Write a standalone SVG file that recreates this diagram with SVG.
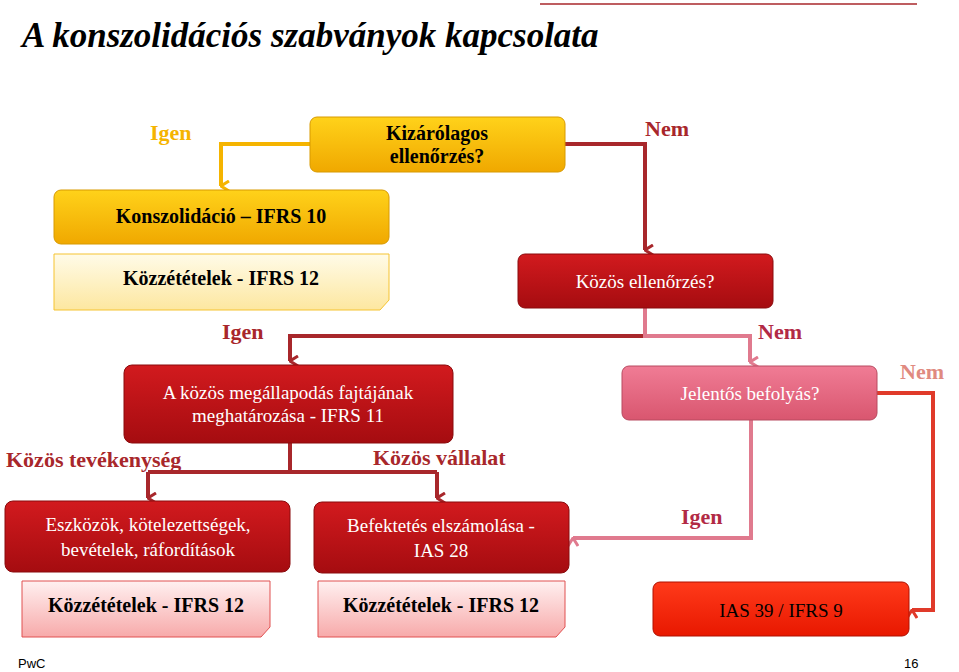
<svg xmlns="http://www.w3.org/2000/svg" width="959" height="672" viewBox="0 0 959 672">
<defs>
<linearGradient id="gy" x1="0" y1="0" x2="0" y2="1"><stop offset="0" stop-color="#ffd21a"/><stop offset="1" stop-color="#f0a800"/></linearGradient>
<linearGradient id="gr" x1="0" y1="0" x2="0" y2="1"><stop offset="0" stop-color="#d21a1e"/><stop offset="1" stop-color="#a50c10"/></linearGradient>
<linearGradient id="gp" x1="0" y1="0" x2="0" y2="1"><stop offset="0" stop-color="#f07c95"/><stop offset="1" stop-color="#d9566f"/></linearGradient>
<linearGradient id="go" x1="0" y1="0" x2="0" y2="1"><stop offset="0" stop-color="#ff3a1a"/><stop offset="1" stop-color="#e81800"/></linearGradient>
<linearGradient id="gpy" x1="0" y1="0" x2="0" y2="1"><stop offset="0" stop-color="#fffbe8"/><stop offset="1" stop-color="#fde7a0"/></linearGradient>
<linearGradient id="gpr" x1="0" y1="0" x2="0" y2="1"><stop offset="0" stop-color="#fff0f0"/><stop offset="1" stop-color="#f7aaaa"/></linearGradient>
<marker id="ay" viewBox="0 0 12 10" refX="6" refY="9" markerWidth="12" markerHeight="10" markerUnits="userSpaceOnUse" orient="auto-start-reverse"><path d="M1,1 L6,9 L11,1" fill="none" stroke="#f5b400" stroke-width="3"/></marker>
<marker id="ad" viewBox="0 0 12 10" refX="6" refY="9" markerWidth="12" markerHeight="10" markerUnits="userSpaceOnUse" orient="auto"><path d="M1,1 L6,9 L11,1" fill="none" stroke="#a8272b" stroke-width="3"/></marker>
<marker id="ap" viewBox="0 0 12 10" refX="6" refY="9" markerWidth="12" markerHeight="10" markerUnits="userSpaceOnUse" orient="auto"><path d="M1,1 L6,9 L11,1" fill="none" stroke="#e07a8e" stroke-width="3"/></marker>
<marker id="ao" viewBox="0 0 12 10" refX="6" refY="9" markerWidth="12" markerHeight="10" markerUnits="userSpaceOnUse" orient="auto"><path d="M1,1 L6,9 L11,1" fill="none" stroke="#e03a2a" stroke-width="3"/></marker>
</defs>
<style>
.t{font-family:"Liberation Serif",serif;font-size:19px;text-anchor:middle}
.b{font-family:"Liberation Serif",serif;font-size:20px;font-weight:bold;text-anchor:middle}
.l{font-family:"Liberation Serif",serif;font-size:22px;font-weight:bold}
.w{fill:#fff}
.c{fill:none;stroke-width:4}
</style>
<rect width="959" height="672" fill="#fff"/>
<line x1="540" y1="4" x2="917" y2="4" stroke="#a8272b" stroke-width="1.5"/>
<text x="22" y="47" font-family="Liberation Serif,serif" font-size="35" font-weight="bold" font-style="italic">A konszolidációs szabványok kapcsolata</text>
<g id="connectors">
<path class="c" stroke="#f5b400" d="M310,144 H221 V186" marker-end="url(#ay)"/>
<path class="c" stroke="#a8272b" d="M565,144 H645 V250" marker-end="url(#ad)"/>
<path class="c" stroke="#a8272b" d="M645,336 H290 V361" marker-end="url(#ad)"/>
<path class="c" stroke="#e07a8e" d="M645,308 V336 H750 V362" marker-end="url(#ap)"/>
<path class="c" stroke="#a8272b" d="M290,443 V472"/>
<path class="c" stroke="#a8272b" d="M148,472 H437"/>
<path class="c" stroke="#a8272b" d="M148,472 V498" marker-end="url(#ad)"/>
<path class="c" stroke="#a8272b" d="M437,472 V498" marker-end="url(#ad)"/>
<path class="c" stroke="#e07a8e" d="M751,420 V538 H573" marker-end="url(#ap)"/>
<path class="c" stroke="#e03a2a" d="M877,393 H933 V610 H912" marker-end="url(#ao)"/>
</g>
<text class="l" x="150" y="140" fill="#f5b400">Igen</text>
<text class="l" x="645" y="136" fill="#a8272b">Nem</text>
<text class="l" x="222" y="339" fill="#a8272b">Igen</text>
<text class="l" x="758" y="339" fill="#b22a45">Nem</text>
<text class="l" x="900" y="379" fill="#e08a80">Nem</text>
<text class="l" x="681" y="524" fill="#b22a45">Igen</text>
<text class="l" x="6" y="467" fill="#a8272b">Közös tevékenység</text>
<text class="l" x="373" y="465" fill="#a8272b">Közös vállalat</text>
<g id="kizarolagos"><rect x="310" y="117" width="255" height="55" rx="7" fill="url(#gy)" stroke="#d89a00"/><text class="b" x="437" y="140">Kizárólagos</text><text class="b" x="437" y="163">ellenőrzés?</text></g>
<g id="konszolidacio"><rect x="54" y="190" width="335" height="54" rx="7" fill="url(#gy)" stroke="#d89a00"/><text class="b" x="221" y="223">Konszolidáció – IFRS 10</text></g>
<g id="kozz1"><path d="M54,254 H389 V300 L380,310 H54 Z" fill="url(#gpy)" stroke="#f5c330"/><text class="b" x="221" y="285">Közzétételek - IFRS 12</text></g>
<g id="kozos-ell"><rect x="518" y="254" width="255" height="54" rx="7" fill="url(#gr)" stroke="#8a0a0c"/><text class="t w" x="645" y="288">Közös ellenőrzés?</text></g>
<g id="megallapodas"><rect x="124" y="365" width="329" height="78" rx="8" fill="url(#gr)" stroke="#8a0a0c"/><text class="t w" x="288" y="399">A közös megállapodás fajtájának</text><text class="t w" x="288" y="422">meghatározása - IFRS 11</text></g>
<g id="jelentos"><rect x="622" y="366" width="255" height="54" rx="7" fill="url(#gp)" stroke="#b84a60"/><text class="t w" x="750" y="400">Jelentős befolyás?</text></g>
<g id="eszkozok"><rect x="5" y="501" width="285" height="71" rx="8" fill="url(#gr)" stroke="#8a0a0c"/><text class="t w" x="148" y="531">Eszközök, kötelezettségek,</text><text class="t w" x="148" y="556">bevételek, ráfordítások</text></g>
<g id="befektetes"><rect x="314" y="502" width="255" height="71" rx="8" fill="url(#gr)" stroke="#8a0a0c"/><text class="t w" x="441" y="532">Befektetés elszámolása  -</text><text class="t w" x="441" y="557">IAS 28</text></g>
<g id="kozz2"><path d="M22,581 H270 V627 L261,637 H22 Z" fill="url(#gpr)" stroke="#e05050"/><text class="b" x="146" y="612">Közzétételek - IFRS 12</text></g>
<g id="kozz3"><path d="M318,581 H565 V627 L556,637 H318 Z" fill="url(#gpr)" stroke="#e05050"/><text class="b" x="441" y="612">Közzétételek - IFRS 12</text></g>
<g id="ias39"><rect x="653" y="582" width="256" height="54" rx="7" fill="url(#go)" stroke="#b01000"/><text class="t" x="781" y="617">IAS 39 / IFRS 9</text></g>
<text x="18" y="668" font-family="Liberation Sans,sans-serif" font-size="13">PwC</text>
<text x="904" y="668" font-family="Liberation Sans,sans-serif" font-size="13">16</text>
</svg>
